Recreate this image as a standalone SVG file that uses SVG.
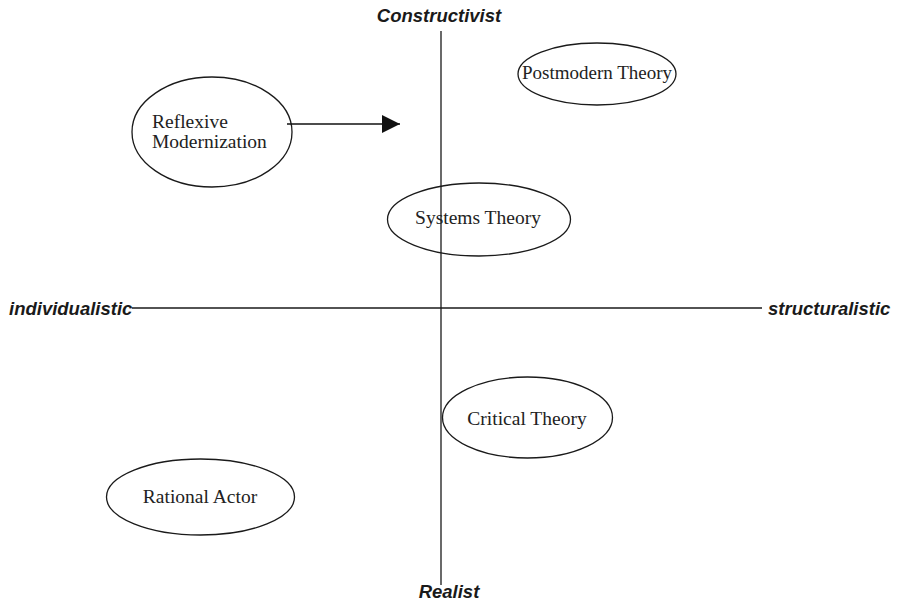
<svg xmlns="http://www.w3.org/2000/svg" width="898" height="603" viewBox="0 0 898 603">
  <style>
    .axis { stroke: #1a1a1a; stroke-width: 1.3; fill: none; }
    .node ellipse { fill: none; stroke: #1a1a1a; stroke-width: 1.3; }
    .node text { font-family: "Liberation Serif", "Times New Roman", serif; font-size: 19.5px; fill: #222; }
    .pole { font-family: "Liberation Sans", Arial, sans-serif; font-size: 18.5px; font-weight: bold; font-style: italic; fill: #1a1a1a; }
  </style>
  <defs>
    <marker id="arrowhead" viewBox="0 0 18 18" refX="18" refY="9" markerWidth="18" markerHeight="18" markerUnits="userSpaceOnUse" orient="auto">
      <path d="M0,0 L18,9 L0,18 Z" fill="#111"/>
    </marker>
  </defs>

  <rect width="898" height="603" fill="#fff"/>

  <!-- axes -->
  <g id="axes">
    <line class="axis" x1="441" y1="31" x2="441" y2="585"/>
    <line class="axis" x1="132" y1="308" x2="762" y2="308"/>
    <text class="pole" x="439" y="22" text-anchor="middle">Constructivist</text>
    <text class="pole" x="449" y="598" text-anchor="middle">Realist</text>
    <text class="pole" x="9" y="315">individualistic</text>
    <text class="pole" x="768" y="315">structuralistic</text>
  </g>

  <!-- nodes -->
  <g id="reflexive-modernization" class="node">
    <ellipse cx="212" cy="132" rx="80" ry="55"/>
    <text x="152" y="128">Reflexive</text>
    <text x="152" y="148">Modernization</text>
  </g>
  <g id="postmodern-theory" class="node">
    <ellipse cx="597" cy="74" rx="79" ry="31"/>
    <text x="597" y="79" text-anchor="middle" style="font-size:19px">Postmodern Theory</text>
  </g>
  <g id="systems-theory" class="node">
    <ellipse cx="479" cy="219.5" rx="91.5" ry="36.5"/>
    <text x="478" y="224" text-anchor="middle">Systems Theory</text>
  </g>
  <g id="critical-theory" class="node">
    <ellipse cx="527.5" cy="417.5" rx="85" ry="40.5"/>
    <text x="527" y="425" text-anchor="middle">Critical Theory</text>
  </g>
  <g id="rational-actor" class="node">
    <ellipse cx="200.5" cy="497" rx="94" ry="38"/>
    <text x="200" y="503" text-anchor="middle">Rational Actor</text>
  </g>

  <!-- connectors -->
  <g id="connectors">
    <line x1="287" y1="124" x2="400" y2="124" stroke="#111" stroke-width="1.5" marker-end="url(#arrowhead)"/>
  </g>
</svg>
